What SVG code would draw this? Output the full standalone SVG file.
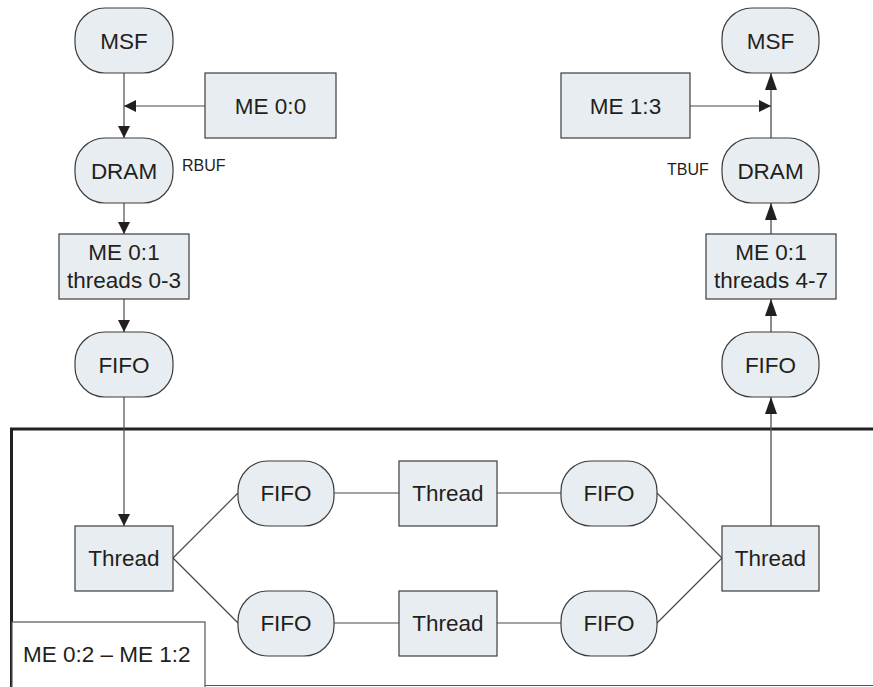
<svg xmlns="http://www.w3.org/2000/svg" width="873" height="687" viewBox="0 0 873 687">
  <style>
    .box { fill: #e8edf1; stroke: #3c3c3c; stroke-width: 1.2; }
    .lbl { font-family: "Liberation Sans", Arial, sans-serif; font-size: 22.5px; fill: #231f20; text-anchor: middle; }
    .small { font-family: "Liberation Sans", Arial, sans-serif; font-size: 16px; fill: #231f20; }
    .wire { fill: none; stroke: #4a4a4a; stroke-width: 1.2; }
    .up { fill: none; stroke: #5a5a5a; stroke-width: 1.4; }
    .arrow { marker-end: url(#head); }
    .arrow-long { marker-end: url(#headLong); }
  </style>
  <defs>
    <marker id="head" markerUnits="userSpaceOnUse" markerWidth="12" markerHeight="12" refX="12" refY="6" orient="auto">
      <path d="M0,0 L12,6 L0,12 z" fill="#231f20"/>
    </marker>
    <marker id="headLong" markerUnits="userSpaceOnUse" markerWidth="17" markerHeight="12" refX="17" refY="6" orient="auto">
      <path d="M0,0 L17,6 L0,12 z" fill="#231f20"/>
    </marker>
  </defs>
  <rect width="873" height="687" fill="#ffffff"/>

  <!-- enclosing region for ME 0:2 - ME 1:2 -->
  <g id="region">
    <line x1="10" y1="429" x2="873" y2="429" stroke="#231f20" stroke-width="3"/>
    <line x1="11.5" y1="428" x2="11.5" y2="687" stroke="#231f20" stroke-width="3"/>
    <line x1="11" y1="685.5" x2="873" y2="685.5" stroke="#555" stroke-width="1.2"/>
  </g>

  <g id="connectors">
    <!-- receive side -->
    <line class="wire arrow" x1="124" y1="73" x2="124" y2="138"/>
    <line class="wire arrow" x1="205" y1="106" x2="124" y2="106"/>
    <line class="wire arrow" x1="124" y1="203" x2="124" y2="234"/>
    <line class="wire arrow" x1="124" y1="299" x2="124" y2="332"/>
    <line class="wire arrow" x1="124" y1="397" x2="124" y2="526"/>
    <!-- processing pipelines -->
    <line class="wire" x1="173" y1="558" x2="238" y2="493"/>
    <line class="wire" x1="173" y1="558" x2="238" y2="623"/>
    <line class="wire" x1="334" y1="493" x2="399" y2="493"/>
    <line class="wire" x1="334" y1="623" x2="399" y2="623"/>
    <line class="wire" x1="497" y1="493" x2="561" y2="493"/>
    <line class="wire" x1="497" y1="623" x2="561" y2="623"/>
    <line class="wire" x1="657" y1="493" x2="722" y2="558"/>
    <line class="wire" x1="657" y1="623" x2="722" y2="558"/>
    <!-- transmit side -->
    <line class="up arrow-long" x1="771" y1="526" x2="771" y2="397"/>
    <line class="up arrow-long" x1="771" y1="332" x2="771" y2="299"/>
    <line class="up arrow-long" x1="771" y1="234" x2="771" y2="203"/>
    <line class="up arrow-long" x1="771" y1="138" x2="771" y2="73"/>
    <line class="wire arrow" x1="690" y1="106" x2="771" y2="106"/>
  </g>

  <g id="msf-rx"><rect class="box" x="75" y="8" width="98" height="65" rx="30"/><text class="lbl" x="124" y="49">MSF</text></g>
  <g id="me00"><rect class="box" x="205" y="73" width="131" height="65"/><text class="lbl" x="270.5" y="114">ME 0:0</text></g>
  <g id="dram-rx"><rect class="box" x="75" y="138" width="98" height="65" rx="30"/><text class="lbl" x="124" y="179">DRAM</text></g>
  <text class="small" x="182" y="171">RBUF</text>
  <g id="me01-rx"><rect class="box" x="59" y="234" width="130" height="65"/><text class="lbl" x="124" y="260">ME 0:1</text><text class="lbl" x="124" y="288">threads 0-3</text></g>
  <g id="fifo-rx"><rect class="box" x="75" y="332" width="98" height="65" rx="30"/><text class="lbl" x="124" y="373">FIFO</text></g>

  <g id="thread-in"><rect class="box" x="75" y="526" width="98" height="65"/><text class="lbl" x="124" y="566">Thread</text></g>
  <g id="fifo-a1"><rect class="box" x="238" y="461" width="96" height="65" rx="30"/><text class="lbl" x="286" y="501">FIFO</text></g>
  <g id="fifo-b1"><rect class="box" x="238" y="591" width="96" height="65" rx="30"/><text class="lbl" x="286" y="631">FIFO</text></g>
  <g id="thread-a"><rect class="box" x="399" y="461" width="98" height="65"/><text class="lbl" x="448" y="501">Thread</text></g>
  <g id="thread-b"><rect class="box" x="399" y="591" width="98" height="65"/><text class="lbl" x="448" y="631">Thread</text></g>
  <g id="fifo-a2"><rect class="box" x="561" y="461" width="96" height="65" rx="30"/><text class="lbl" x="609" y="501">FIFO</text></g>
  <g id="fifo-b2"><rect class="box" x="561" y="591" width="96" height="65" rx="30"/><text class="lbl" x="609" y="631">FIFO</text></g>
  <g id="thread-out"><rect class="box" x="722" y="526" width="97" height="65"/><text class="lbl" x="770.5" y="566">Thread</text></g>

  <g id="region-label"><rect x="12" y="622" width="193" height="66" fill="#ffffff" stroke="#555" stroke-width="1.2"/><text class="lbl" x="23" y="662" style="text-anchor:start">ME 0:2 – ME 1:2</text></g>

  <g id="fifo-tx"><rect class="box" x="722" y="332" width="97" height="65" rx="30"/><text class="lbl" x="770.5" y="373">FIFO</text></g>
  <g id="me01-tx"><rect class="box" x="706" y="234" width="130" height="65"/><text class="lbl" x="771" y="260">ME 0:1</text><text class="lbl" x="771" y="288">threads 4-7</text></g>
  <g id="dram-tx"><rect class="box" x="722" y="138" width="97" height="65" rx="30"/><text class="lbl" x="770.5" y="179">DRAM</text></g>
  <text class="small" x="667" y="175">TBUF</text>
  <g id="me13"><rect class="box" x="561" y="73" width="129" height="65"/><text class="lbl" x="625.5" y="114">ME 1:3</text></g>
  <g id="msf-tx"><rect class="box" x="722" y="8" width="97" height="65" rx="30"/><text class="lbl" x="770.5" y="49">MSF</text></g>
</svg>
